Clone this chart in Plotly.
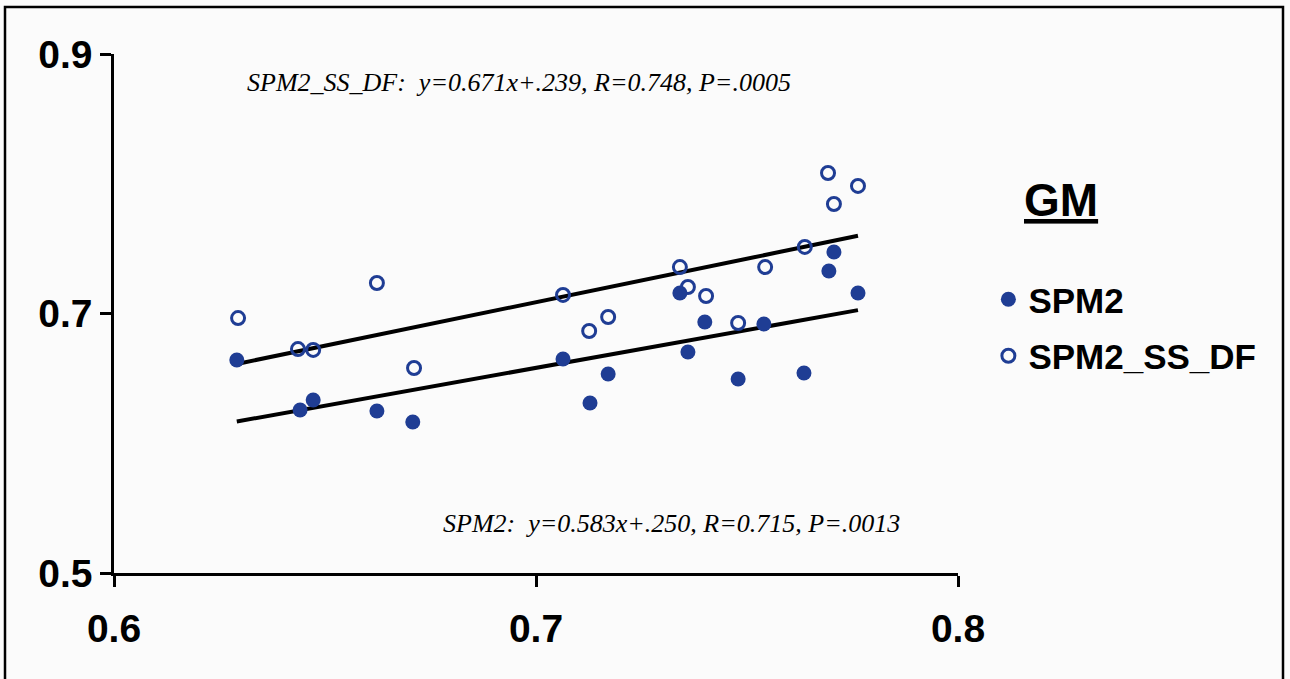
import plotly.graph_objects as go

# ---- data ----
spm2_x = [0.6291, 0.6441, 0.6472, 0.6623, 0.6708, 0.7064, 0.7128, 0.7171, 0.7341,
          0.7360, 0.7400, 0.7479, 0.7540, 0.7635, 0.7694, 0.7706, 0.7763]
spm2_y = [0.6642, 0.6256, 0.6333, 0.6249, 0.6164, 0.6649, 0.6310, 0.6534, 0.7158,
          0.6703, 0.6934, 0.6495, 0.6919, 0.6541, 0.7328, 0.7474, 0.7158]
ssdf_x = [0.6294, 0.6436, 0.6472, 0.6623, 0.6711, 0.7064, 0.7126, 0.7171, 0.7341,
          0.7360, 0.7403, 0.7479, 0.7543, 0.7637, 0.7692, 0.7706, 0.7763]
ssdf_y = [0.6965, 0.6726, 0.6719, 0.7235, 0.6580, 0.7143, 0.6865, 0.6973, 0.7358,
          0.7204, 0.7135, 0.6927, 0.7358, 0.7513, 0.8083, 0.7844, 0.7983]

fit_spm2 = [0.583, 0.250]   # slope, intercept
fit_ssdf = [0.671, 0.239]

x_ticks = [0.6, 0.7, 0.8]
x_ticklabels = ["0.6", "0.7", "0.8"]
y_ticks = [0.5, 0.7, 0.9]
y_ticklabels = ["0.5", "0.7", "0.9"]

label_spm2 = "SPM2:  y=0.583x+.250, R=0.715, P=.0013"
label_ssdf = "SPM2_SS_DF:  y=0.671x+.239, R=0.748, P=.0005"

BLUE = "#1f3d94"

def fit_line(xs, coef):
    x0, x1 = min(xs), max(xs)
    return [x0, x1], [coef[0] * x0 + coef[1], coef[0] * x1 + coef[1]]

fig = go.Figure()

lx, ly = fit_line(ssdf_x, fit_ssdf)
fig.add_trace(go.Scatter(x=lx, y=ly, mode="lines", line=dict(color="black", width=4),
                         showlegend=False, hoverinfo="skip"))
lx, ly = fit_line(spm2_x, fit_spm2)
fig.add_trace(go.Scatter(x=lx, y=ly, mode="lines", line=dict(color="black", width=4),
                         showlegend=False, hoverinfo="skip"))

fig.add_trace(go.Scatter(x=spm2_x, y=spm2_y, mode="markers", name="SPM2",
                         legendgroup="a",
                         marker=dict(symbol="circle", size=15, color=BLUE)))
fig.add_trace(go.Scatter(x=ssdf_x, y=ssdf_y, mode="markers", name="SPM2_SS_DF",
                         legendgroup="b",
                         marker=dict(symbol="circle-open", size=13, color=BLUE,
                                     line=dict(width=3, color=BLUE))))

axis_common = dict(showline=True, linecolor="black", linewidth=2.5, ticks="outside",
                   ticklen=11, tickwidth=2.5, tickcolor="black", showgrid=False,
                   zeroline=False, mirror=False,
                   tickfont=dict(family="Liberation Sans, Arial", size=39, color="black",
                                 weight="bold"))

fig.update_xaxes(range=[0.6, 0.8], tickvals=x_ticks, ticktext=x_ticklabels,
                 ticklabelstandoff=8, **axis_common)
fig.update_yaxes(range=[0.5, 0.9], tickvals=y_ticks, ticktext=y_ticklabels,
                 ticklabelstandoff=0, **axis_common)

fig.add_annotation(x=0.631, y=0.878, xref="x", yref="y", text=label_ssdf, showarrow=False,
                   xanchor="left", yanchor="middle",
                   font=dict(family="Liberation Serif, Times New Roman", size=26,
                             color="black", style="italic"))
fig.add_annotation(x=0.6775, y=0.5378, xref="x", yref="y", text=label_spm2, showarrow=False,
                   xanchor="left", yanchor="middle",
                   font=dict(family="Liberation Serif, Times New Roman", size=26,
                             color="black", style="italic"))
fig.add_annotation(x=(1061 - 114) / 844, y=(573 - 200) / 519, xref="paper", yref="paper",
                   text="<b><u>GM</u></b>",
                   showarrow=False, xanchor="center", yanchor="middle",
                   font=dict(family="Liberation Sans, Arial", size=46, color="black"))

# outer frame
fig.add_shape(type="rect", xref="paper", yref="paper",
              x0=(5 - 114) / 844, x1=(1283 - 114) / 844,
              y0=(573 - 682) / 519, y1=(573 - 7) / 519,
              line=dict(color="black", width=2.5), fillcolor="rgba(0,0,0,0)")

fig.update_layout(
    width=1290, height=679,
    margin=dict(l=114, r=332, t=54, b=106),
    paper_bgcolor="#fbfbfb", plot_bgcolor="#fbfbfb",
    showlegend=True,
    legend=dict(x=1.036, y=(573 - 270) / 519, xanchor="left", yanchor="top",
                traceorder="grouped", tracegroupgap=8,
                bgcolor="rgba(0,0,0,0)",
                font=dict(family="Liberation Sans, Arial", size=35, color="black",
                          weight="bold")),
)

fig.write_html("out.html")
